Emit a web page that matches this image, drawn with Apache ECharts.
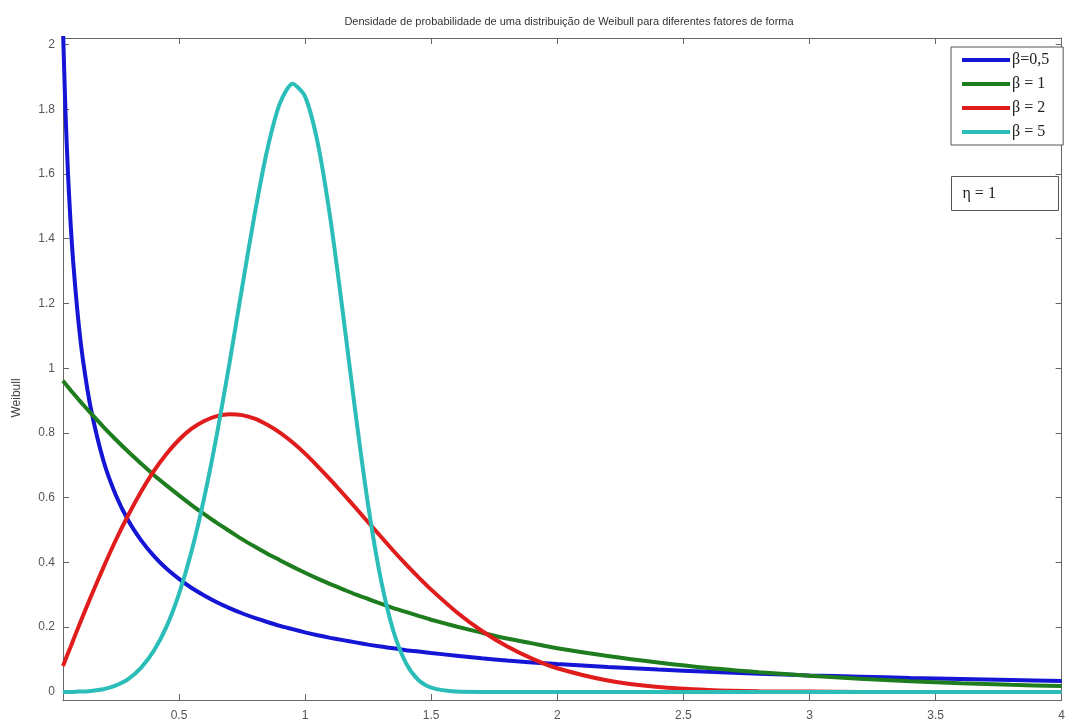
<!DOCTYPE html>
<html>
<head>
<meta charset="utf-8">
<script src="https://cdn.jsdelivr.net/npm/echarts@6/dist/echarts.min.js"></script>
<style>
  html, body { margin: 0; padding: 0; background: #fff; }
  #main { width: 1068px; height: 724px; }
</style>
</head>
<body>
<div id="main"></div>
<script>
var xs = [0.04, 0.05, 0.06, 0.07, 0.08, 0.1, 0.12, 0.15, 0.2, 0.25, 0.3, 0.35, 0.4, 0.45, 0.5,
    0.55, 0.6, 0.65, 0.7, 0.75, 0.8, 0.85, 0.9, 0.95, 1.0, 1.05, 1.1, 1.15, 1.2, 1.25, 1.3,
    1.35, 1.4, 1.45, 1.5, 1.6, 1.7, 1.8, 1.9, 2.0, 2.2, 2.4, 2.6, 2.8, 3.0, 3.2, 3.4, 3.6, 3.8, 4.0];

var beta05 = [2.047, 1.788, 1.598, 1.450, 1.332, 1.153, 1.021, 0.877, 0.715, 0.607, 0.528, 0.468, 0.420, 0.381, 0.349,
    0.321, 0.298, 0.277, 0.259, 0.243, 0.229, 0.216, 0.204, 0.194, 0.184, 0.175, 0.167, 0.160, 0.153, 0.146, 0.140,
    0.135, 0.129, 0.125, 0.120, 0.112, 0.104, 0.097, 0.091, 0.086, 0.077, 0.069, 0.062, 0.056, 0.051, 0.047, 0.043, 0.040, 0.037, 0.034];

var beta1 = [0.961, 0.951, 0.942, 0.932, 0.923, 0.905, 0.887, 0.861, 0.819, 0.779, 0.741, 0.705, 0.670, 0.638, 0.607,
    0.577, 0.549, 0.522, 0.497, 0.472, 0.449, 0.427, 0.407, 0.387, 0.368, 0.350, 0.333, 0.317, 0.301, 0.287, 0.273,
    0.259, 0.247, 0.235, 0.223, 0.202, 0.183, 0.165, 0.150, 0.135, 0.111, 0.091, 0.074, 0.061, 0.050, 0.041, 0.033, 0.027, 0.022, 0.018];

var beta2 = [0.080, 0.100, 0.120, 0.139, 0.159, 0.198, 0.237, 0.293, 0.384, 0.470, 0.548, 0.619, 0.682, 0.735, 0.779,
    0.813, 0.837, 0.852, 0.858, 0.855, 0.844, 0.825, 0.801, 0.771, 0.736, 0.697, 0.656, 0.613, 0.569, 0.524, 0.480,
    0.436, 0.394, 0.354, 0.316, 0.247, 0.189, 0.141, 0.103, 0.073, 0.035, 0.015, 0.006, 0.002, 0.001, 0.000, 0.000, 0.000, 0.000, 0.000];

var beta5 = [0.000, 0.000, 0.000, 0.000, 0.000, 0.001, 0.001, 0.003, 0.008, 0.020, 0.040, 0.075, 0.127, 0.201, 0.303,
    0.435, 0.600, 0.795, 1.015, 1.248, 1.476, 1.675, 1.818, 1.879, 1.839, 1.696, 1.463, 1.170, 0.861, 0.577, 0.349,
    0.188, 0.089, 0.036, 0.013, 0.001, 0.000, 0.000, 0.000, 0.000, 0.000, 0.000, 0.000, 0.000, 0.000, 0.000, 0.000, 0.000, 0.000, 0.000];

var seriesNames = ['β=0,5', 'β = 1', 'β = 2', 'β = 5'];
var xTicks = [0.5, 1, 1.5, 2, 2.5, 3, 3.5, 4];
var yTicks = [0, 0.2, 0.4, 0.6, 0.8, 1, 1.2, 1.4, 1.6, 1.8, 2];

function pairs(ys) {
    var res = [];
    for (var i = 0; i < xs.length; i++) {
        res.push([xs[i], ys[i]]);
    }
    return res;
}

var chart = echarts.init(document.getElementById('main'));

var axisLine = { show: true, onZero: false, lineStyle: { color: '#666', width: 1 } };
var labelFont = { color: '#555', fontSize: 12, fontFamily: 'Liberation Sans, Arial' };

var option = {
    animation: false,
    backgroundColor: '#fff',
    color: ['#1515d6', '#1e7d1e', '#e01c1c', '#2bbdb8'],
    title: {
        text: 'Densidade de probabilidade de uma distribuição de Weibull para diferentes fatores de forma',
        left: 564,
        textAlign: 'center',
        top: 11,
        textStyle: { fontSize: 11, fontWeight: 'normal', color: '#333', fontFamily: 'Liberation Sans, Arial' }
    },
    grid: { left: 63, right: 2, top: 38, bottom: 24, containLabel: false },
    legend: {
        orient: 'vertical',
        left: 951,
        top: 47,
        padding: [5, 14, 5, 11],
        itemGap: 8,
        itemWidth: 48,
        itemHeight: 4,
        icon: 'rect',
        borderColor: '#555',
        borderWidth: 1,
        backgroundColor: '#fff',
        textStyle: { fontSize: 16, fontFamily: 'Liberation Serif, Times New Roman', color: '#222', lineHeight: 16, padding: [0, 0, 0, -3] },
        data: seriesNames
    },
    xAxis: [{
        type: 'value',
        min: 0.04,
        max: 4,
        axisLine: axisLine,
        splitLine: { show: false },
        axisTick: { show: true, inside: true, length: 6, customValues: xTicks, lineStyle: { color: '#666' } },
        axisLabel: Object.assign({ margin: 10, customValues: xTicks }, labelFont)
    }, {
        type: 'value',
        position: 'top',
        min: 0.04,
        max: 4,
        axisLine: axisLine,
        splitLine: { show: false },
        axisTick: { show: true, inside: true, length: 6, customValues: xTicks, lineStyle: { color: '#666' } },
        axisLabel: { show: false }
    }],
    yAxis: [{
        type: 'value',
        min: -0.025,
        max: 2.02,
        name: 'Weibull',
        nameLocation: 'middle',
        nameGap: 40,
        nameTextStyle: { fontSize: 12, color: '#444', fontFamily: 'Liberation Sans, Arial', padding: [0, 0, 0, -58] },
        axisLine: axisLine,
        splitLine: { show: false },
        axisTick: { show: true, inside: true, length: 6, customValues: yTicks, lineStyle: { color: '#666' } },
        axisLabel: Object.assign({ margin: 8, customValues: yTicks }, labelFont)
    }, {
        type: 'value',
        position: 'right',
        min: -0.025,
        max: 2.02,
        axisLine: axisLine,
        splitLine: { show: false },
        axisTick: { show: true, inside: true, length: 6, customValues: yTicks, lineStyle: { color: '#666' } },
        axisLabel: { show: false }
    }],
    graphic: [{
        type: 'group',
        left: 951,
        top: 176,
        children: [{
            type: 'rect',
            shape: { x: 0, y: 0, width: 107, height: 34 },
            style: { fill: '#fff', stroke: '#555', lineWidth: 1 }
        }, {
            type: 'text',
            x: 11,
            y: 17,
            style: { text: 'η = 1', fill: '#222', fontSize: 16, fontFamily: 'Liberation Serif, Times New Roman', verticalAlign: 'middle' }
        }]
    }],
    series: [
        { name: seriesNames[0], data: pairs(beta05) },
        { name: seriesNames[1], data: pairs(beta1) },
        { name: seriesNames[2], data: pairs(beta2) },
        { name: seriesNames[3], data: pairs(beta5) }
    ].map(function (s) {
        s.type = 'line';
        s.showSymbol = false;
        s.smooth = 0.25;
        s.clip = true;
        s.lineStyle = { width: 4 };
        return s;
    })
};

chart.setOption(option);
window.addEventListener('resize', function () {
    chart.resize();
});
</script>
</body>
</html>
